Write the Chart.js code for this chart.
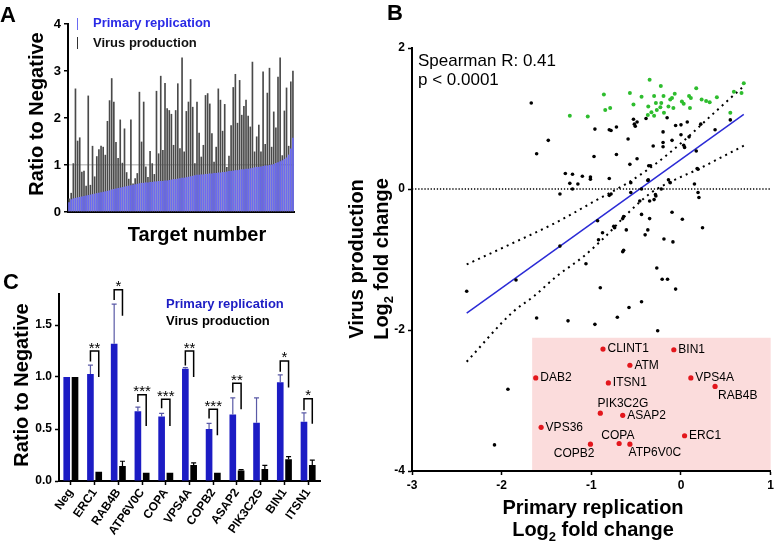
<!DOCTYPE html>
<html>
<head>
<meta charset="utf-8">
<script src="https://cdn.jsdelivr.net/npm/chart.js@4.4.1/dist/chart.umd.min.js"></script>
<style>
html, body { margin: 0; padding: 0; background: #fff; }
body { width: 777px; height: 542px; position: relative; overflow: hidden; }
canvas { position: absolute; }
</style>
</head>
<body>
<canvas id="chartA" width="300" height="255" style="left:0;top:0"></canvas>
<canvas id="chartC" width="330" height="287" style="left:0;top:255px"></canvas>
<canvas id="chartB" width="447" height="542" style="left:330px;top:0"></canvas>
<script>
// ---- panel A: screen of all targets, sorted by primary replication ----
const screenPrimary = [
	0.21, 0.27, 0.29, 0.30, 0.31, 0.32, 0.33, 0.34, 0.35, 0.36,
	0.37, 0.38, 0.39, 0.40, 0.41, 0.42, 0.43, 0.44, 0.45, 0.46,
	0.48, 0.49, 0.50, 0.51, 0.52, 0.53, 0.54, 0.55, 0.56, 0.57,
	0.58, 0.59, 0.60, 0.61, 0.62, 0.62, 0.63, 0.63, 0.64, 0.64,
	0.65, 0.65, 0.66, 0.66, 0.66, 0.67, 0.67, 0.68, 0.69, 0.70,
	0.70, 0.71, 0.72, 0.73, 0.73, 0.74, 0.75, 0.76, 0.77, 0.78,
	0.79, 0.79, 0.80, 0.80, 0.81, 0.81, 0.82, 0.82, 0.83, 0.83,
	0.84, 0.84, 0.85, 0.85, 0.86, 0.87, 0.87, 0.88, 0.89, 0.89,
	0.90, 0.91, 0.91, 0.92, 0.92, 0.93, 0.94, 0.95, 0.96, 0.96,
	0.97, 0.98, 0.99, 0.99, 1.00, 1.01, 1.02, 1.04, 1.06, 1.08,
	1.10, 1.13, 1.16, 1.22, 1.35, 1.58
];
const screenVirus = [
	0.28, 0.40, 1.03, 2.62, 1.51, 1.58, 0.85, 0.87, 0.55, 2.47,
	0.57, 1.40, 0.75, 1.18, 1.33, 1.40, 1.38, 1.21, 1.93, 2.37,
	2.84, 2.34, 1.48, 1.14, 1.96, 1.04, 1.77, 0.84, 0.70, 1.96,
	0.60, 0.71, 0.82, 2.55, 1.49, 2.34, 0.96, 0.74, 1.29, 1.03,
	0.80, 2.57, 1.24, 2.89, 1.31, 2.74, 2.20, 2.16, 2.08, 1.42,
	2.16, 2.73, 1.35, 3.28, 1.28, 2.14, 2.34, 2.82, 2.23, 1.03,
	2.34, 1.68, 1.17, 1.42, 2.48, 2.52, 2.30, 1.67, 1.06, 1.38,
	2.62, 2.38, 1.72, 2.29, 0.95, 1.19, 1.84, 2.65, 2.93, 1.89,
	2.80, 2.06, 2.25, 2.38, 2.04, 1.81, 3.19, 1.28, 1.60, 1.85,
	1.28, 2.98, 1.44, 2.53, 3.06, 1.38, 2.13, 1.79, 2.87, 3.28,
	1.20, 2.15, 2.64, 1.40, 2.77, 3.00
];
const screenTicks = [0, 1, 2, 3, 4];

// ---- panel B: log2 fold changes (primary replication, virus production) ----
const otherPoints = [
	[-1.67, 1.22], [-1.48, 0.69], [-1.61, 0.50], [-0.96, 0.85], [-0.80, 0.84], [-0.78, 0.83],
	[-0.72, 0.88], [-0.53, 0.99], [-0.51, 0.89], [-0.52, 0.92], [-0.49, 0.95], [-0.39, 1.00],
	[-0.155, 1.01], [-0.59, 0.71], [-0.97, 0.46], [-0.72, 0.49], [-0.49, 0.43], [-0.57, 0.35],
	[-0.31, 0.61], [-0.20, 0.81], [-0.20, 0.66], [-0.20, 0.60], [-0.06, 0.90], [0.00, 0.91],
	[0.07, 0.95], [0.00, 0.77], [-0.10, 0.69], [0.03, 0.62], [0.04, 0.59], [0.09, 0.74],
	[0.22, 0.92], [0.38, 0.84], [0.55, 0.98], [0.17, 0.54], [0.19, 0.28], [0.18, 0.29],
	[0.15, 0.07], [0.19, -0.05], [0.20, -0.12], [0.24, -0.55], [0.015, -0.43], [-0.10, -0.33],
	[-0.19, -0.71], [-0.09, -0.75], [-0.27, -1.12], [-0.21, -1.28], [-0.15, -1.28], [-0.06, -1.42],
	[-0.90, -1.40], [-1.06, -1.06], [-1.35, -0.81], [-1.35, -0.07], [-1.29, 0.22], [-1.21, 0.21],
	[-1.24, 0.08], [-1.21, 0.00], [-1.15, 0.07], [-1.10, 0.18], [-1.01, 0.17], [-1.01, 0.14],
	[-0.80, 0.15], [-0.93, -0.45], [-0.80, -0.09], [-0.78, -0.07], [-0.64, -0.39], [-0.65, -0.42],
	[-0.61, -0.58], [-0.75, -0.53], [-0.74, -0.55], [-0.875, -0.62], [-0.65, -0.89], [-0.64, -0.87],
	[-0.56, -0.05], [-0.56, 0.09], [-0.44, 0.00], [-0.46, -0.17], [-0.44, -0.36], [-0.365, 0.13],
	[-0.37, 0.12], [-0.36, 0.33], [-0.34, 0.33], [-0.35, -0.17], [-0.35, -0.42], [-0.37, -0.58],
	[-0.40, -0.65], [-0.30, -0.15], [-0.28, -0.10], [-0.285, -0.08], [-0.14, 0.13], [-0.12, 0.09],
	[-0.22, 0.00], [-0.92, -0.72], [-2.39, -1.45], [-1.84, -1.29], [-0.58, -1.68], [-0.44, -1.60],
	[-1.61, -1.83], [-1.26, -1.87], [-0.96, -1.92], [-0.71, -1.82], [-0.26, -2.01], [-1.93, -2.84],
	[-2.08, -3.63]
];
const upPoints = [
	[-1.24, 1.04], [-1.04, 1.03], [-0.86, 1.34], [-0.845, 1.12], [-0.79, 1.15], [-0.57, 1.36],
	[-0.53, 1.20], [-0.44, 1.31], [-0.35, 1.55], [-0.30, 1.32], [-0.225, 1.46], [-0.37, 1.05],
	[-0.365, 1.17], [-0.33, 1.09], [-0.28, 1.22], [-0.23, 1.16], [-0.22, 1.22], [-0.195, 1.32],
	[-0.19, 1.08], [-0.14, 1.17], [-0.12, 1.27], [-0.10, 1.29], [-0.085, 1.15], [-0.07, 1.35],
	[0.01, 1.24], [0.03, 1.21], [0.09, 1.32], [0.11, 1.29], [0.10, 1.15], [0.17, 1.43],
	[0.23, 1.27], [0.28, 1.25], [0.32, 1.23], [0.40, 1.30], [0.55, 1.08], [0.59, 1.38],
	[0.675, 1.36], [0.70, 1.50], [-0.30, 1.04], [-0.27, 1.12]
];
const hitNames = ['CLINT1', 'BIN1', 'ATM', 'DAB2', 'ITSN1', 'VPS4A', 'RAB4B',
	'PIK3C2G', 'ASAP2', 'VPS36', 'ERC1', 'COPB2', 'COPA', 'ATP6V0C'];
const hitPrimary = [-0.87, -0.08, -0.57, -1.62, -0.81, 0.11, 0.38, -0.90, -0.65, -1.56, 0.04, -1.01, -0.69, -0.57];
const hitVirus = [-2.27, -2.28, -2.50, -2.68, -2.75, -2.68, -2.80, -3.18, -3.21, -3.38, -3.50, -3.62, -3.61, -3.62];
const hitBoxX = [-1.66, 1.0];
const hitBoxY = [-4.0, -2.11];
const fitX = [-2.39, 0.70];
const fitY = [-1.76, 1.06];
const bandUpperX = [-2.39, -1.88, -1.40, -0.96, -0.59, -0.29, 0.0, 0.37, 0.70];
const bandUpperY = [-1.07, -0.77, -0.48, -0.17, 0.09, 0.35, 0.65, 1.08, 1.46];
const bandLowerX = [-2.39, -1.88, -1.64, -1.38, -1.10, -0.84, -0.59, -0.33, -0.07, 0.19, 0.45, 0.71];
const bandLowerY = [-2.45, -1.75, -1.52, -1.23, -0.97, -0.67, -0.34, -0.05, 0.13, 0.28, 0.45, 0.62];
const zeroLineX = [-3, 1];

// ---- panel C: validation ----
const geneNames = ['Neg', 'ERC1', 'RAB4B', 'ATP6V0C', 'COPA', 'VPS4A', 'COPB2', 'ASAP2', 'PIK3C2G', 'BIN1', 'ITSN1'];
const primaryMean = [1.00, 1.03, 1.32, 0.67, 0.62, 1.08, 0.50, 0.64, 0.56, 0.95, 0.57];
const primaryErrTop = [null, 1.115, 1.70, 0.71, 0.65, 1.09, 0.555, 0.80, 0.80, 1.02, 0.655];
const virusMean = [1.00, 0.09, 0.145, 0.08, 0.08, 0.155, 0.08, 0.10, 0.115, 0.21, 0.155];
const virusErrTop = [null, null, 0.19, null, null, 0.175, null, 0.11, 0.15, 0.235, 0.20];
const sigGene = [1, 2, 3, 4, 5, 6, 7, 9, 10];
const sigText = ['**', '*', '***', '***', '**', '***', '**', '*', '*'];
const sigTop = [1.25, 1.84, 0.83, 0.785, 1.25, 0.69, 0.94, 1.155, 0.79];
const sigLeftEnd = [1.15, 1.74, 0.76, 0.70, 1.11, 0.60, 0.85, 1.05, 0.68];
const sigRightEnd = [1.00, 1.59, 0.53, 0.53, 1.00, 0.44, 0.69, 0.90, 0.55];

Chart.defaults.font.family = "'Liberation Sans', Arial, sans-serif";
Chart.defaults.color = "#000";

const FONT = "'Liberation Sans', Arial, sans-serif";
const BLUE_A = "#6a6af2";
const BLUE_C = "#1c1cc4";

function drawText(ctx, t) {
	ctx.save();
	ctx.font = t.font;
	ctx.fillStyle = t.color || "#000";
	ctx.textAlign = t.align || "left";
	ctx.textBaseline = t.baseline || "alphabetic";
	ctx.translate(t.x, t.y);
	if (t.rotate) ctx.rotate(t.rotate);
	ctx.fillText(t.text, 0, 0);
	ctx.restore();
}

// "Log2 fold change" with a subscript 2, centred on (x, y)
function drawLog2(ctx, x, y, rotate) {
	ctx.save();
	ctx.translate(x, y);
	if (rotate) ctx.rotate(rotate);
	ctx.fillStyle = "#000";
	ctx.textBaseline = "alphabetic";
	ctx.textAlign = "left";
	const big = "bold 20px " + FONT;
	const small = "bold 13px " + FONT;
	ctx.font = big;
	const w1 = ctx.measureText("Log").width;
	const w3 = ctx.measureText(" fold change").width;
	ctx.font = small;
	const w2 = ctx.measureText("2").width;
	let cx = -(w1 + w2 + w3) / 2;
	ctx.font = big;
	ctx.fillText("Log", cx, 0);
	cx += w1;
	ctx.font = small;
	ctx.fillText("2", cx, 5);
	cx += w2;
	ctx.font = big;
	ctx.fillText(" fold change", cx, 0);
	ctx.restore();
}

function textPlugin(id, items, origin, extra) {
	return {
		id: id,
		afterDraw(chart) {
			const ctx = chart.ctx;
			items.forEach((t) => drawText(ctx, Object.assign({}, t, { x: t.x - origin[0], y: t.y - origin[1] })));
			if (extra) extra(chart, origin);
		}
	};
}

// ---------------- Panel A ----------------
const legendMarksA = {
	id: "legendMarksA",
	afterDraw(chart) {
		const ctx = chart.ctx;
		ctx.save();
		ctx.lineWidth = 1;
		ctx.strokeStyle = BLUE_A;
		ctx.beginPath(); ctx.moveTo(77.5, 18); ctx.lineTo(77.5, 30); ctx.stroke();
		ctx.strokeStyle = "#333";
		ctx.beginPath(); ctx.moveTo(77.5, 37); ctx.lineTo(77.5, 49); ctx.stroke();
		ctx.restore();
	}
};

new Chart(document.getElementById("chartA"), {
	type: "bar",
	data: {
		labels: screenPrimary.map((_, i) => String(i + 1)),
		datasets: [
			{
				label: "Primary replication",
				data: screenPrimary,
				backgroundColor: BLUE_A,
				barPercentage: 0.8,
				categoryPercentage: 1,
				grouped: false,
				order: 0
			},
			{
				label: "Virus production",
				data: screenVirus,
				backgroundColor: "#4a4a4a",
				barThickness: 1,
				grouped: false,
				order: 1
			}
		]
	},
	options: {
		responsive: false,
		animation: false,
		layout: { padding: { top: 24, right: 6, left: 0, bottom: 0 } },
		plugins: { legend: { display: false }, tooltip: { enabled: false } },
		scales: {
			x: {
				afterFit: (s) => { s.height = 43; },
				ticks: { display: false },
				grid: { display: false },
				border: { color: "#000", width: 2 }
			},
			y: {
				min: 0,
				max: 4,
				afterFit: (s) => { s.width = 68; },
				afterBuildTicks: (s) => { s.ticks = screenTicks.map((v) => ({ value: v })); },
				ticks: { font: { size: 13, weight: "bold" }, color: "#000", padding: 3 },
				grid: {
					color: (c) => (c.tick && c.tick.value === 1 ? "#c6c6c6" : "rgba(0,0,0,0)"),
					lineWidth: 1.5,
					tickColor: "#000",
					tickLength: 4,
					tickWidth: 1.5
				},
				border: { color: "#000", width: 2 }
			}
		}
	},
	plugins: [
		legendMarksA,
		textPlugin("textA", [
			{ text: "A", x: 0, y: 22, font: "bold 22px " + FONT },
			{ text: "Ratio to Negative", x: 43, y: 114, font: "bold 20px " + FONT, align: "center", rotate: -Math.PI / 2 },
			{ text: "Target number", x: 197, y: 241, font: "bold 20px " + FONT, align: "center" },
			{ text: "Primary replication", x: 93, y: 27, font: "bold 13px " + FONT, color: "#2a2ae6" },
			{ text: "Virus production", x: 93, y: 47, font: "bold 13px " + FONT, color: "#111" }
		], [0, 0])
	]
});

// ---------------- Panel C ----------------
const errorPlugin = {
	id: "errorBars",
	afterDatasetsDraw(chart) {
		const ctx = chart.ctx;
		const y = chart.scales.y;
		ctx.save();
		[[0, primaryErrTop, "#5a5aa6"], [1, virusErrTop, "#000"]].forEach(([di, tops, col]) => {
			const meta = chart.getDatasetMeta(di);
			tops.forEach((top, j) => {
				if (top == null) return;
				const bar = meta.data[j];
				const yTop = y.getPixelForValue(top);
				ctx.strokeStyle = col;
				ctx.lineWidth = 1.2;
				ctx.beginPath();
				ctx.moveTo(bar.x, bar.y);
				ctx.lineTo(bar.x, yTop);
				ctx.moveTo(bar.x - 2.5, yTop);
				ctx.lineTo(bar.x + 2.5, yTop);
				ctx.stroke();
			});
		});
		const m0 = chart.getDatasetMeta(0);
		const m1 = chart.getDatasetMeta(1);
		sigGene.forEach((g, k) => {
			const xL = m0.data[g].x;
			const xR = m1.data[g].x;
			const yT = y.getPixelForValue(sigTop[k]);
			ctx.strokeStyle = "#000";
			ctx.lineWidth = 1.5;
			ctx.beginPath();
			ctx.moveTo(xL, y.getPixelForValue(sigLeftEnd[k]));
			ctx.lineTo(xL, yT);
			ctx.lineTo(xR, yT);
			ctx.lineTo(xR, y.getPixelForValue(sigRightEnd[k]));
			ctx.stroke();
			drawText(ctx, { text: sigText[k], x: (xL + xR) / 2, y: yT + 1.5, font: "15px " + FONT, align: "center" });
		});
		ctx.restore();
	}
};

new Chart(document.getElementById("chartC"), {
	type: "bar",
	data: {
		labels: geneNames,
		datasets: [
			{ label: "Primary replication", data: primaryMean, backgroundColor: BLUE_C, categoryPercentage: 0.7, barPercentage: 0.8 },
			{ label: "Virus production", data: virusMean, backgroundColor: "#000", categoryPercentage: 0.7, barPercentage: 0.8 }
		]
	},
	options: {
		responsive: false,
		animation: false,
		layout: { padding: { top: 38.8, right: 10, left: 0, bottom: 0 } },
		plugins: { legend: { display: false }, tooltip: { enabled: false } },
		scales: {
			x: {
				afterFit: (s) => { s.height = 61; },
				ticks: { font: { size: 12, weight: "bold" }, color: "#000", minRotation: 55, maxRotation: 55, autoSkip: false, padding: 1 },
				grid: { offset: false, drawOnChartArea: false, tickColor: "#000", tickLength: 4, tickWidth: 1.5 },
				border: { color: "#000", width: 2 }
			},
			y: {
				min: 0,
				max: 1.8,
				afterFit: (s) => { s.width = 59; },
				ticks: {
					stepSize: 0.5,
					includeBounds: false,
					callback: (v) => Number(v).toFixed(1),
					font: { size: 12, weight: "bold" },
					color: "#000",
					padding: 3
				},
				grid: { drawOnChartArea: false, tickColor: "#000", tickLength: 4, tickWidth: 1.5 },
				border: { color: "#000", width: 2 }
			}
		}
	},
	plugins: [
		errorPlugin,
		textPlugin("textC", [
			{ text: "C", x: 3, y: 289, font: "bold 22px " + FONT },
			{ text: "Ratio to Negative", x: 28, y: 385, font: "bold 20px " + FONT, align: "center", rotate: -Math.PI / 2 },
			{ text: "Primary replication", x: 166, y: 308, font: "bold 13px " + FONT, color: BLUE_C },
			{ text: "Virus production", x: 166, y: 325, font: "bold 13px " + FONT, color: "#000" }
		], [0, 255])
	]
});

// ---------------- Panel B ----------------
const labelPlace = {
	RAB4B: { dx: 3, dy: 9, align: "left" },
	PIK3C2G: { dx: -2.7, dy: -9.7, align: "left" },
	COPA: { dx: -1.2, dy: -8, align: "center" },
	COPB2: { dx: 4, dy: 9.3, align: "right" },
	ATP6V0C: { dx: -1.3, dy: 8.7, align: "left" }
};

const hitBoxPlugin = {
	id: "hitBox",
	beforeDraw(chart) {
		const { x, y } = chart.scales;
		const ctx = chart.ctx;
		const x0 = x.getPixelForValue(hitBoxX[0]);
		const x1 = x.getPixelForValue(hitBoxX[1]);
		const y0 = y.getPixelForValue(hitBoxY[1]);
		const y1 = y.getPixelForValue(hitBoxY[0]);
		ctx.save();
		ctx.fillStyle = "#fbdcdc";
		ctx.fillRect(x0, y0, x1 - x0, y1 - y0);
		ctx.restore();
	}
};

const hitLabelPlugin = {
	id: "hitLabels",
	afterDatasetsDraw(chart) {
		const meta = chart.getDatasetMeta(3);
		meta.data.forEach((pt, j) => {
			const name = hitNames[j];
			const p = labelPlace[name] || { dx: 4.5, dy: 0, align: "left" };
			drawText(chart.ctx, { text: name, x: pt.x + p.dx, y: pt.y + p.dy, font: "12px " + FONT, align: p.align, baseline: "middle" });
		});
	}
};

const toXY = (pairs) => pairs.map((p) => ({ x: p[0], y: p[1] }));
const zip = (xs, ys) => xs.map((v, i) => ({ x: v, y: ys[i] }));

new Chart(document.getElementById("chartB"), {
	type: "scatter",
	data: {
		datasets: [
			{ label: "zero", data: zip(zeroLineX, [0, 0]), showLine: true, borderColor: "#000", borderWidth: 1.5, borderDash: [1.3, 1.8], pointRadius: 0 },
			{ label: "targets", data: toXY(otherPoints), backgroundColor: "#000", borderWidth: 0, pointRadius: 1.8 },
			{ label: "increased", data: toXY(upPoints), backgroundColor: "#2ebd2e", borderWidth: 0, pointRadius: 2 },
			{ label: "hits", data: zip(hitPrimary, hitVirus), backgroundColor: "#e3161c", borderWidth: 0, pointRadius: 2.6 },
			{ label: "fit", data: zip(fitX, fitY), showLine: true, borderColor: "#2b2bd6", borderWidth: 1.5, pointRadius: 0 },
			{ label: "upper", data: zip(bandUpperX, bandUpperY), showLine: true, borderColor: "#000", borderWidth: 2, borderDash: [2, 4.3], pointRadius: 0, cubicInterpolationMode: "monotone" },
			{ label: "lower", data: zip(bandLowerX, bandLowerY), showLine: true, borderColor: "#000", borderWidth: 2, borderDash: [2, 4.3], pointRadius: 0, cubicInterpolationMode: "monotone" }
		]
	},
	options: {
		responsive: false,
		animation: false,
		layout: { padding: { top: 48, right: 4, left: 0, bottom: 0 } },
		plugins: { legend: { display: false }, tooltip: { enabled: false } },
		scales: {
			x: {
				type: "linear",
				min: -3,
				max: 1,
				afterFit: (s) => { s.height = 71; },
				ticks: { stepSize: 1, font: { size: 12, weight: "bold" }, color: "#000", padding: 3 },
				grid: { drawOnChartArea: false, tickColor: "#000", tickLength: 4, tickWidth: 1.5 },
				border: { color: "#000", width: 2 }
			},
			y: {
				min: -4,
				max: 2,
				afterFit: (s) => { s.width = 82; },
				ticks: { stepSize: 2, font: { size: 12, weight: "bold" }, color: "#000", padding: 3 },
				grid: { drawOnChartArea: false, tickColor: "#000", tickLength: 4, tickWidth: 1.5 },
				border: { color: "#000", width: 2 }
			}
		}
	},
	plugins: [
		hitBoxPlugin,
		hitLabelPlugin,
		textPlugin("textB", [
			{ text: "B", x: 387, y: 20, font: "bold 22px " + FONT },
			{ text: "Virus production", x: 363, y: 259, font: "bold 20px " + FONT, align: "center", rotate: -Math.PI / 2 },
			{ text: "Spearman R: 0.41", x: 418, y: 66, font: "17px " + FONT },
			{ text: "p < 0.0001", x: 418, y: 85, font: "17px " + FONT },
			{ text: "Primary replication", x: 593, y: 514, font: "bold 20px " + FONT, align: "center" }
		], [330, 0], (chart, origin) => {
			drawLog2(chart.ctx, 388 - origin[0], 259 - origin[1], -Math.PI / 2);
			drawLog2(chart.ctx, 593 - origin[0], 536 - origin[1], 0);
		})
	]
});
</script>
</body>
</html>
